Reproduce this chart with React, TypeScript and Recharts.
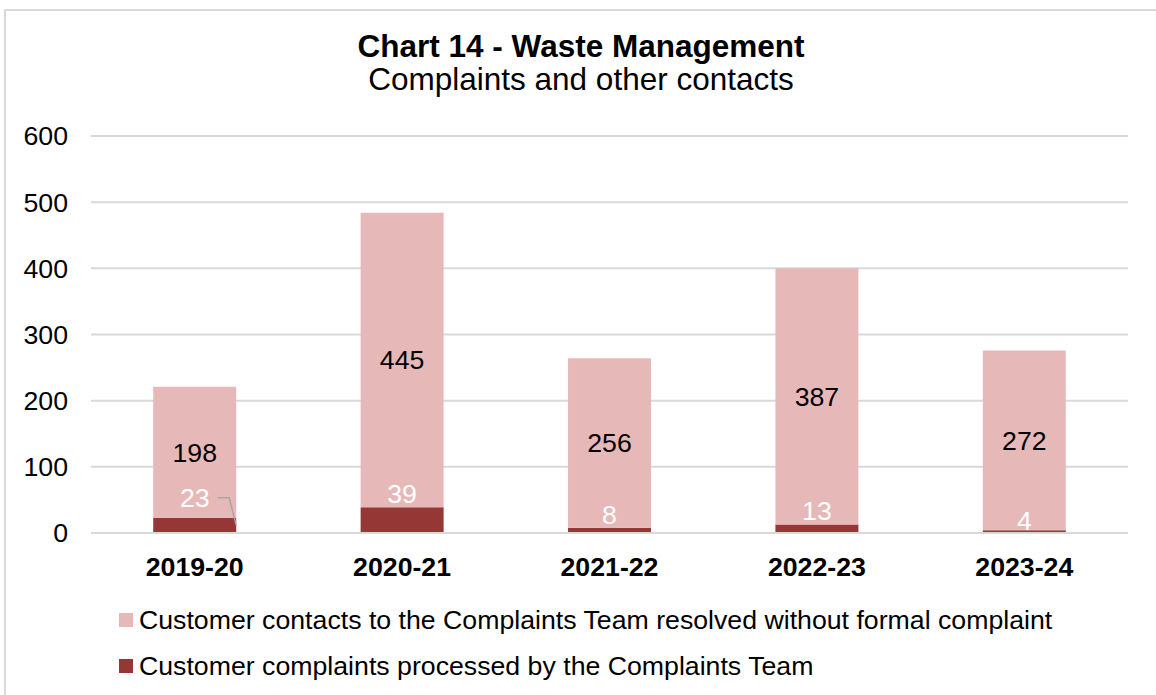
import React from "react";
import { BarChart, Bar, XAxis, YAxis, CartesianGrid, LabelList, Legend } from "recharts";

const YEARS = ["2019-20", "2020-21", "2021-22", "2022-23", "2023-24"];
const COMPLAINTS = [23, 39, 8, 13, 4];
const CONTACTS = [198, 445, 256, 387, 272];
const Y_TICKS = [0, 100, 200, 300, 400, 500, 600];

const COMPLAINT_NAME = "Customer complaints processed by the Complaints Team";
const CONTACT_NAME = "Customer contacts to the Complaints Team resolved without formal complaint";

const DARK = "#953735";
const LIGHT = "#E6B9B8";
const GRID = "#D9D9D9";
const FONT = "'Liberation Sans', Arial, sans-serif";
const FS = 26.7;

const data = YEARS.map((year, i) => ({
  year,
  complaints: COMPLAINTS[i],
  contacts: CONTACTS[i],
}));

// small complaint labels sit just above the dark segment, the first one was dragged up with a leader line
const ComplaintLabel = (props: any) => {
  const { x, y, width, height, value, index } = props;
  const cx = x + width / 2;
  if (index === 0) {
    const base = y - 11;
    const midY = base - 9;
    return (
      <g>
        <polyline
          points={`${cx + 23},${midY} ${x + width - 7},${midY} ${x + width},${y + height / 2}`}
          fill="none"
          stroke="#A6A6A6"
          strokeWidth={1.5}
        />
        <text x={cx} y={base} textAnchor="middle" fill="#fff" fontSize={FS} fontFamily={FONT}>
          {value}
        </text>
      </g>
    );
  }
  const base = index === 4 ? y + height - 3 : y - 4;
  return (
    <text x={cx} y={base} textAnchor="middle" fill="#fff" fontSize={FS} fontFamily={FONT}>
      {value}
    </text>
  );
};

const LegendContent = () => (
  <div style={{ fontFamily: FONT, fontSize: FS, color: "#000" }}>
    {[
      { name: CONTACT_NAME, color: LIGHT },
      { name: COMPLAINT_NAME, color: DARK },
    ].map((item) => (
      <div key={item.name} style={{ display: "flex", alignItems: "center", height: 46, whiteSpace: "nowrap" }}>
        <span style={{ display: "inline-block", width: 14, height: 14, background: item.color, marginRight: 6 }} />
        <span>{item.name}</span>
      </div>
    ))}
  </div>
);

export default function App() {
  return (
    <div style={{ position: "absolute", left: 0, top: 0, width: 1156, height: 695, overflow: "hidden", background: "#fff" }}>
      <div
        style={{
          position: "absolute",
          left: 4,
          top: 9,
          width: 1170,
          height: 700,
          border: `2px solid ${GRID}`,
        }}
      />
      <svg style={{ position: "absolute", left: 0, top: 0 }} width={1156} height={100}>
        <text x={581} y={57} textAnchor="middle" fontFamily={FONT} fontSize={31.5} fontWeight="bold" fill="#000">
          Chart 14 - Waste Management
        </text>
        <text x={581} y={90} textAnchor="middle" fontFamily={FONT} fontSize={31.5} fill="#000">
          Complaints and other contacts
        </text>
      </svg>
      <div style={{ position: "absolute", left: 0, top: 0 }}>
        <BarChart
          width={1156}
          height={695}
          data={data}
          margin={{ top: 136, right: 28, bottom: 122, left: 1 }}
          barCategoryGap="30%"
        >
          <CartesianGrid vertical={false} stroke={GRID} strokeWidth={2} />
          <XAxis
            dataKey="year"
            height={40}
            axisLine={{ stroke: GRID, strokeWidth: 2 }}
            tickLine={false}
            tickSize={0}
            tickMargin={24}
            tick={{ fill: "#000", fontSize: FS, fontWeight: "bold", fontFamily: FONT }}
          />
          <YAxis
            width={90}
            domain={[0, 600]}
            ticks={Y_TICKS}
            axisLine={false}
            tickLine={false}
            tickSize={0}
            tickMargin={23}
            tick={{ fill: "#000", fontSize: FS, fontFamily: FONT }}
          />
          <Legend
            layout="vertical"
            verticalAlign="middle"
            align="center"
            content={<LegendContent />}
            wrapperStyle={{ top: 597, left: 119, width: "auto" }}
          />
          <Bar dataKey="complaints" name={COMPLAINT_NAME} stackId="a" fill={DARK} isAnimationActive={false}>
            <LabelList dataKey="complaints" content={<ComplaintLabel />} />
          </Bar>
          <Bar dataKey="contacts" name={CONTACT_NAME} stackId="a" fill={LIGHT} isAnimationActive={false}>
            <LabelList
              dataKey="contacts"
              position="center"
              fill="#000"
              fontSize={FS}
              fontFamily={FONT}
            />
          </Bar>
        </BarChart>
      </div>
    </div>
  );
}
